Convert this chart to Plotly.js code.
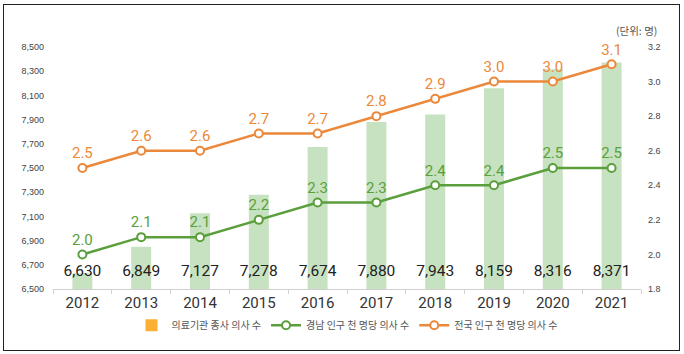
<!DOCTYPE html>
<html><head><meta charset="utf-8">
<script src="https://cdn.plot.ly/plotly-3.0.1.min.js"></script>
<style>
html,body{margin:0;padding:0;background:#fff;}
#wrap{position:relative;width:684px;height:354px;}
#chart{position:absolute;left:0;top:0;width:684px;height:354px;}
#frame{position:absolute;left:3px;top:4px;width:675px;height:345px;border:1px solid #222;pointer-events:none;}
</style></head>
<body>
<div id="wrap"><div id="chart"></div><div id="frame"></div></div>
<script>
const years = ['2012','2013','2014','2015','2016','2017','2018','2019','2020','2021'];
const doctors = [6630, 6849, 7127, 7278, 7674, 7880, 7943, 8159, 8316, 8371];
const gyeongnamPer1000 = [2.0, 2.1, 2.1, 2.2, 2.3, 2.3, 2.4, 2.4, 2.5, 2.5];
const nationalPer1000 = [2.5, 2.6, 2.6, 2.7, 2.7, 2.8, 2.9, 3.0, 3.0, 3.1];
const leftTicks = [6500, 6700, 6900, 7100, 7300, 7500, 7700, 7900, 8100, 8300, 8500];
const rightTicks = [1.8, 2.0, 2.2, 2.4, 2.6, 2.8, 3.0, 3.2];
const names = ['의료기관 종사 의사 수', '경남 인구 천 명당 의사 수', '전국 인구 천 명당 의사 수'];
const barLabelLevel = 6640;

const fmt = v => v.toLocaleString('en-US');
const korFont = '"Noto Sans CJK KR", "Noto Sans", sans-serif';

const traces = [
  {type:'bar', x:years, y:doctors, marker:{color:'#C7E2C0'}, width:0.34, showlegend:false, hoverinfo:'skip'},
  {type:'bar', x:[years[0]], y:[null], name:names[0], marker:{color:'#FBB034'}, showlegend:true},
  {type:'scatter', mode:'text', x:years, y:years.map(()=>barLabelLevel), text:doctors.map(fmt), cliponaxis:false,
   textfont:{family:'Roboto', size:15.5, color:'#222'}, showlegend:false, hoverinfo:'skip'},
  {type:'scatter', mode:'lines+markers+text', x:years, y:gyeongnamPer1000, yaxis:'y2', name:names[1], cliponaxis:false,
   line:{color:'#5B9F3C', width:2.5}, marker:{symbol:'circle', size:8, color:'#fff', line:{color:'#5B9F3C', width:2}},
   text:gyeongnamPer1000.map(v=>v.toFixed(1)), textposition:'top center',
   textfont:{family:'Roboto', size:15, color:'#5B9F3C'}},
  {type:'scatter', mode:'lines+markers+text', x:years, y:nationalPer1000, yaxis:'y2', name:names[2], cliponaxis:false,
   line:{color:'#EC883A', width:2.5}, marker:{symbol:'circle', size:8, color:'#fff', line:{color:'#EC883A', width:2}},
   text:nationalPer1000.map(v=>v.toFixed(1)), textposition:'top center',
   textfont:{family:'Roboto', size:15, color:'#EC883A'}}
];

const layout = {
  width:684, height:354,
  margin:{l:52.6, r:43, t:47, b:65, pad:0},
  paper_bgcolor:'#fff', plot_bgcolor:'#fff',
  barmode:'overlay',
  xaxis:{type:'category', showgrid:false, showline:true, linecolor:'#d0d0d0', linewidth:1,
    ticks:'outside', tickson:'boundaries', ticklen:4, tickcolor:'#d0d0d0',
    tickfont:{family:'Roboto', size:15, color:'#333'}, range:[-0.5, 9.5], fixedrange:true},
  yaxis:{range:[6500, 8500], tickvals:leftTicks, ticktext:leftTicks.map(fmt), showgrid:false, zeroline:false,
    showline:false, ticks:'', ticklabelstandoff:8,
    tickfont:{family:'"Liberation Sans Narrow", "Liberation Sans", Arial', size:9, color:'#444'}},
  yaxis2:{range:[1.8, 3.2], overlaying:'y', side:'right', tickvals:rightTicks, ticktext:rightTicks.map(v=>v.toFixed(1)),
    showgrid:false, zeroline:false, showline:false, ticks:'', ticklabelstandoff:6,
    tickfont:{family:'"Liberation Sans Narrow", "Liberation Sans", Arial', size:9, color:'#444'}},
  legend:{orientation:'h', x:0.5, xanchor:'center', y:-0.15, yanchor:'middle',
    font:{family:korFont, size:10, color:'#555'}, itemwidth:30, traceorder:'normal', bgcolor:'rgba(0,0,0,0)'},
  annotations:[{xref:'paper', yref:'paper', x:1.03, y:1.07, xanchor:'right', yanchor:'middle', showarrow:false,
    text:'(단위: 명)', font:{family:korFont, size:10.5, color:'#555'}}],
  showlegend:true
};

Plotly.newPlot('chart', traces, layout, {displayModeBar:false, staticPlot:true});
</script>
</body></html>
